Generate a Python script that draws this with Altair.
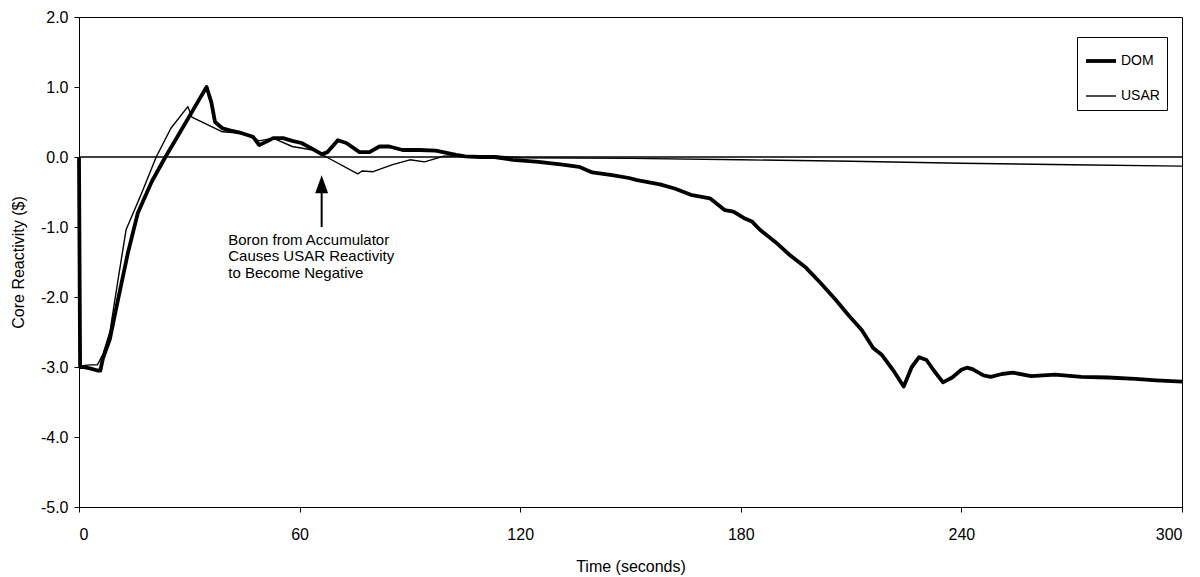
import altair as alt
import pandas as pd

# ---- data ----
dom_t = [0, 0.3, 1, 3, 5, 5.8, 6.5, 8.4, 10.6, 13.3, 16, 19.8, 23.5, 27, 31, 34.7,
         36, 37, 39, 41, 44.3, 47.3, 49, 51, 52.8, 55.5, 58, 60.5, 63, 66, 67.6,
         70.4, 72.7, 76.3, 79, 81.7, 84.4, 88, 92.6, 97, 102.6, 105, 109, 113, 118,
         125, 131.5, 136, 139.6, 145, 149.6, 151.8, 158, 162, 166.4, 171.6, 175.7,
         178, 180.8, 183, 185.2, 189.3, 193.3, 197.7, 201.7, 205.8, 209.3, 212.9,
         216, 218.4, 221.5, 224.3, 226.5, 228.5, 230.5, 232.5, 235, 237.5, 240,
         241.5, 243, 246, 248, 251, 254, 259, 265.5, 272.6, 279.9, 287.3, 293, 300]
dom_v = [0, -3.0, -3.0, -3.02, -3.05, -3.05, -2.88, -2.6, -2.04, -1.37, -0.8, -0.35,
         0.0, 0.31, 0.67, 1.0, 0.78, 0.5, 0.41, 0.38, 0.34, 0.29, 0.17, 0.22, 0.27,
         0.27, 0.23, 0.2, 0.13, 0.04, 0.07, 0.24, 0.2, 0.07, 0.07, 0.15, 0.15, 0.1,
         0.1, 0.09, 0.03, 0.01, 0.0, 0.0, -0.04, -0.07, -0.11, -0.14, -0.22, -0.26,
         -0.3, -0.33, -0.39, -0.45, -0.54, -0.59, -0.76, -0.78, -0.87, -0.92, -1.04,
         -1.21, -1.4, -1.58, -1.8, -2.04, -2.26, -2.47, -2.73, -2.83, -3.05, -3.28,
         -3.0, -2.86, -2.9, -3.05, -3.22, -3.15, -3.04, -3.01, -3.03, -3.12, -3.14,
         -3.1, -3.08, -3.13, -3.11, -3.14, -3.15, -3.17, -3.19, -3.21]

usar_t = [0, 0.3, 1, 3, 5, 6.5, 8.4, 10.6, 12.8, 17, 21, 25, 29.6, 30.7, 39, 44.3,
          49, 52.8, 58, 63.5, 67.3, 75.8, 77, 80, 85.3, 90, 94, 99, 105, 112, 120,
          150, 180, 210, 240, 270, 300]
usar_v = [0, -3.0, -2.98, -2.97, -2.97, -2.82, -2.5, -1.76, -1.04, -0.52, 0.0, 0.41,
          0.72, 0.57, 0.36, 0.34, 0.23, 0.27, 0.15, 0.1, 0.0, -0.24, -0.2, -0.21,
          -0.11, -0.04, -0.07, 0.01, 0.02, 0.02, -0.01, -0.02, -0.04, -0.06, -0.09,
          -0.11, -0.13]

series_names = ["DOM", "USAR"]
series_widths = [3.8, 1.4]

note_lines = ["Boron from Accumulator", "Causes USAR Reactivity", "to Become Negative"]
note_t = [40.6, 40.6, 40.6]
note_v = [-1.19, -1.42, -1.65]

arrow_t = [66]
arrow_base = [-1.0]
arrow_head = [-0.39]

x_ticks = [0, 60, 120, 180, 240, 300]
y_ticks = [-5, -4, -3, -2, -1, 0, 1, 2]
zero_level = [0]

FONT = "Liberation Sans"

df = pd.concat([
    pd.DataFrame({"t": dom_t, "v": dom_v, "series": "DOM"}),
    pd.DataFrame({"t": usar_t, "v": usar_v, "series": "USAR"}),
], ignore_index=True)

xscale = alt.Scale(domain=[0, 300], nice=False, zero=False)
yscale = alt.Scale(domain=[-5, 2], nice=False, zero=False)

x_axis = alt.Axis(values=x_ticks, format="d", title="Time (seconds)",
                  labelPadding=14, titlePadding=16)
y_axis = alt.Axis(values=y_ticks, title="Core Reactivity ($)",
                  labelExpr="(datum.value < 0 ? '-' : '') + format(abs(datum.value), '.1f')",
                  labelPadding=6, titlePadding=14)

lines = alt.Chart(df).mark_line(color="black", strokeJoin="round").encode(
    x=alt.X("t:Q", scale=xscale, axis=x_axis),
    y=alt.Y("v:Q", scale=yscale, axis=y_axis),
    strokeWidth=alt.StrokeWidth(
        "series:N",
        scale=alt.Scale(domain=series_names, range=series_widths),
        legend=alt.Legend(title=None, orient="none", legendX=998, legendY=20,
                          symbolType="stroke", symbolSize=900,
                          symbolStrokeColor="black", labelFont=FONT,
                          labelFontSize=14, labelColor="black", labelOffset=3,
                          strokeColor="black", fillColor="white",
                          padding=7, rowPadding=11),
    ),
)

zero = alt.Chart(pd.DataFrame({"v": zero_level})).mark_rule(
    color="black", strokeWidth=1.5
).encode(y=alt.Y("v:Q", scale=yscale, axis=y_axis))

arrow_df = pd.DataFrame({"t": arrow_t, "base": arrow_base, "head": arrow_head})
shaft = alt.Chart(arrow_df).mark_rule(color="black", strokeWidth=2).encode(
    x=alt.X("t:Q", scale=xscale, axis=x_axis),
    y=alt.Y("head:Q", scale=yscale, axis=y_axis),
    y2="base:Q",
)
head = alt.Chart(arrow_df).mark_point(
    shape="M0,-1L0.72,1L-0.72,1Z", filled=True, size=324, color="black", opacity=1
).encode(
    x=alt.X("t:Q", scale=xscale, axis=x_axis),
    y=alt.Y("head:Q", scale=yscale, axis=y_axis),
)

notes = alt.Chart(pd.DataFrame({"t": note_t, "v": note_v, "label": note_lines})).mark_text(
    align="left", baseline="middle", font=FONT, fontSize=15, color="black"
).encode(
    x=alt.X("t:Q", scale=xscale, axis=x_axis),
    y=alt.Y("v:Q", scale=yscale, axis=y_axis),
    text="label:N",
)

chart = alt.layer(zero, lines, shaft, head, notes).properties(
    width=1103, height=490,
    autosize=alt.AutoSizeParams(type="none"),
    padding={"left": 79, "top": 17, "right": 18, "bottom": 70},
).configure_view(
    stroke="black", strokeWidth=1
).configure_axis(
    grid=False, domainColor="black", domainWidth=1, tickColor="black", tickSize=5,
    labelColor="black", titleColor="black", labelFont=FONT, titleFont=FONT,
    labelFontSize=16, titleFontSize=16, titleFontWeight="normal",
)

chart.save("out.html", embed_options={"renderer": "svg", "actions": False})
